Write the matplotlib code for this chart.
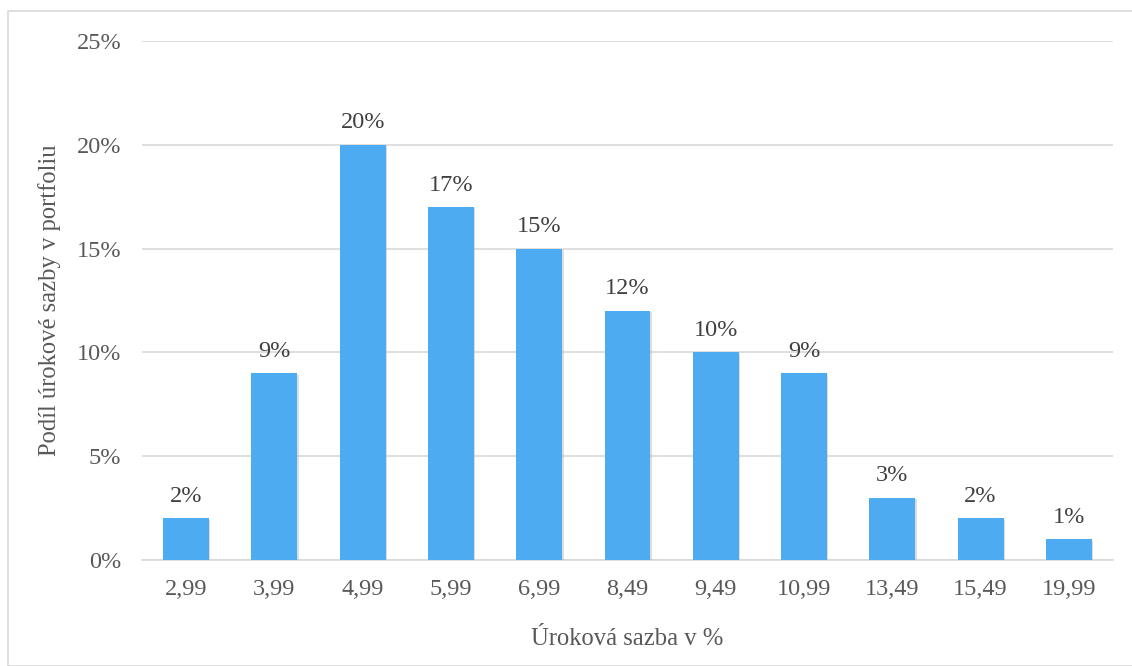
import matplotlib.pyplot as plt
import matplotlib.patheffects as pe
from matplotlib.patches import Rectangle

plt.rcParams['font.family'] = ['Liberation Serif', 'DejaVu Serif']

rates = ["2,99", "3,99", "4,99", "5,99", "6,99", "8,49", "9,49", "10,99", "13,49", "15,49", "19,99"]
shares = [2, 9, 20, 17, 15, 12, 10, 9, 3, 2, 1]
yticks = [0, 5, 10, 15, 20, 25]

text_col = "#595959"
grid_col = "#D9D9D9"

fig = plt.figure(figsize=(11.32, 6.66), dpi=100)
ax = fig.add_axes([142 / 1132, 1 - 560 / 666, (1113 - 142) / 1132, (560 - 41) / 666])

# chart area border like in Excel
fig.patches.append(Rectangle((8 / 1132, 0), 1.2, 1 - 11 / 666, transform=fig.transFigure,
                             fill=False, edgecolor=grid_col, linewidth=1.2))

x = range(len(rates))
bars = ax.bar(x, shares, width=0.52, color="#4DACF1", zorder=3)
for b in bars:
    b.set_path_effects([pe.SimplePatchShadow(offset=(1, -1), shadow_rgbFace="#aaaaaa", alpha=0.4),
                        pe.Normal()])

for xi, v in zip(x, shares):
    ax.text(xi, v + 0.55, f"{v}%", ha="center", va="bottom", fontsize=17.5, color="#404040")

ax.set_xlim(-0.5, len(rates) - 0.5)
ax.set_ylim(0, 25)
ax.set_yticks(yticks)
ax.set_yticklabels([f"{t}%" for t in yticks])
ax.set_xticks(list(x))
ax.set_xticklabels(rates)
ax.tick_params(length=0, labelsize=17.5, colors=text_col)
ax.tick_params(axis="x", pad=14)
ax.tick_params(axis="y", pad=15)
ax.grid(axis="y", color=grid_col, linewidth=1.2, zorder=0)
for s in ["top", "right", "left"]:
    ax.spines[s].set_visible(False)
ax.spines["bottom"].set_color(grid_col)
ax.spines["bottom"].set_linewidth(1.2)

ax.set_xlabel("Úroková sazba v %", fontsize=17.7, color=text_col, labelpad=20)
ax.set_ylabel("Podíl úrokové sazby v portfoliu", fontsize=17.7, color=text_col, labelpad=11)

fig.savefig("out.png", dpi=100)
